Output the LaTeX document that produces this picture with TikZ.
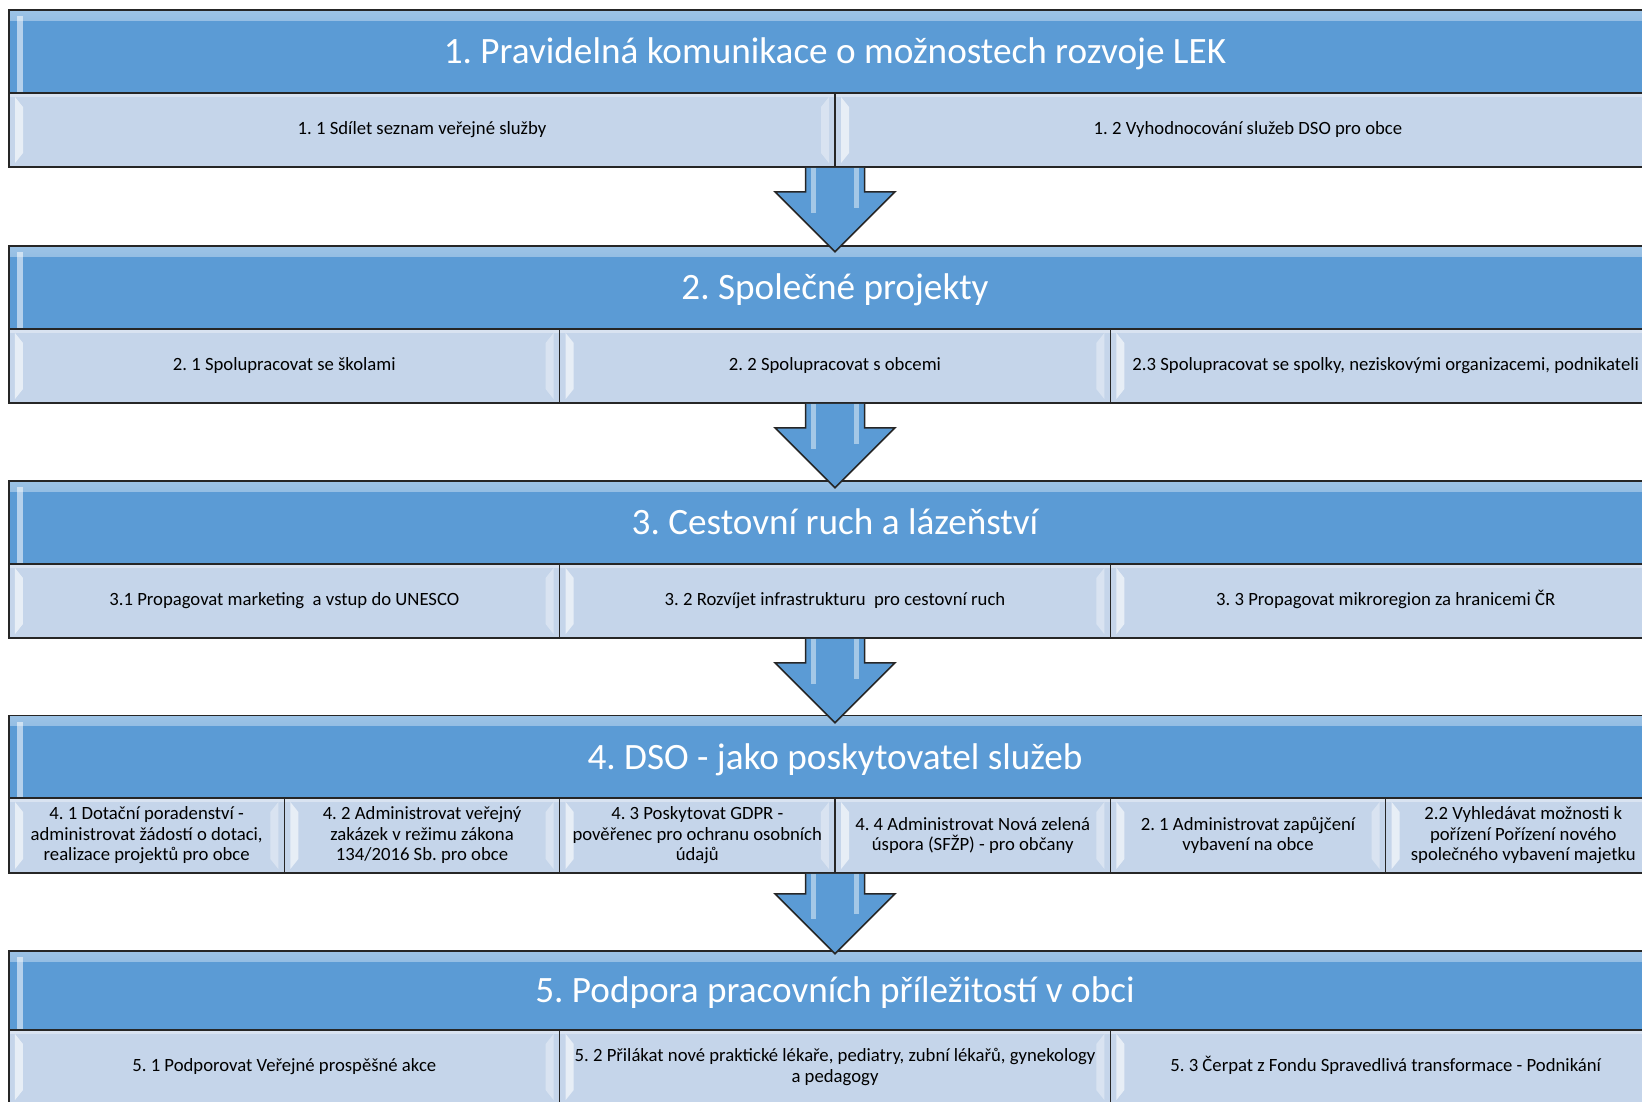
\documentclass[tikz,border=0pt]{standalone}
\usepackage{fontspec}
\setmainfont{Carlito}
\frenchspacing
\usetikzlibrary{calc}
\definecolor{hdrblue}{HTML}{5B9BD5}
\definecolor{subblue}{HTML}{C5D5EA}

\tikzset{
  hdr/.style={draw=black!85, line width=1.5pt, fill=hdrblue, minimum width=1652pt,
    minimum height=83pt, inner sep=0pt, text=white, font=\fontsize{37.2}{40}\selectfont,
    text height=30pt, text depth=5.5pt,
    path picture={
      \fill[top color=white!40!hdrblue, bottom color=hdrblue] (path picture bounding box.north west)
        rectangle ([yshift=-10pt]path picture bounding box.north east);
      \fill[white, opacity=0.55] ([shift={(8pt,-6pt)}]path picture bounding box.north west)
        rectangle ([xshift=14pt]path picture bounding box.south west);
    }},
  cell/.style={draw=black!85, line width=1.5pt, fill=subblue, minimum width=#1,
    minimum height=74pt, inner sep=0pt, align=center, font=\fontsize{18.7}{20.5}\selectfont,
    path picture={
      \fill[white, opacity=0.35] (path picture bounding box.north west)
        rectangle ([yshift=-4pt]path picture bounding box.north east);
      \fill[white, opacity=0.6] ([shift={(6pt,-4pt)}]path picture bounding box.north west)
        -- ([shift={(14pt,-14pt)}]path picture bounding box.north west)
        -- ([shift={(14pt,14pt)}]path picture bounding box.south west)
        -- ([shift={(6pt,4pt)}]path picture bounding box.south west) -- cycle;
      \fill[white, opacity=0.35] ([shift={(-6pt,-4pt)}]path picture bounding box.north east)
        -- ([shift={(-14pt,-14pt)}]path picture bounding box.north east)
        -- ([shift={(-14pt,14pt)}]path picture bounding box.south east)
        -- ([shift={(-6pt,4pt)}]path picture bounding box.south east) -- cycle;
    }},
  bigarrow/.style={draw=black!85, line width=1.5pt, fill=hdrblue, line join=miter,
    path picture={
      \fill[white, opacity=0.45] ([shift={(36pt,0pt)}]path picture bounding box.north west)
        rectangle ([shift={(41pt,-45pt)}]path picture bounding box.north west);
      \fill[white, opacity=0.45] ([shift={(79pt,0pt)}]path picture bounding box.north west)
        rectangle ([shift={(84pt,-40pt)}]path picture bounding box.north west);
    }}
}

\begin{document}
\begin{tikzpicture}[x=1pt, y=-1pt]
    \useasboundingbox (0,0) rectangle (1642,1101);

    \node[hdr] (hdr1) at (835,51.5) {1. Pravidelná komunikace o možnostech rozvoje LEK};
    \node[cell=826pt] (s11) at (422,130) {1. 1 Sdílet seznam veřejné služby};
    \node[cell=826pt] (s12) at (1248,130) {1. 2 Vyhodnocování služeb DSO pro obce};

    \node[hdr] (hdr2) at (835,287.5) {2. Společné projekty};
    \node[cell=550.67pt] (s21) at (284.3,366) {2. 1 Spolupracovat se školami};
    \node[cell=550.67pt] (s22) at (835,366) {2. 2 Spolupracovat s obcemi};
    \node[cell=550.67pt] (s23) at (1385.7,366) {2.3 Spolupracovat se spolky, neziskovými organizacemi, podnikateli};

    \node[hdr] (hdr3) at (835,522.5) {3. Cestovní ruch a lázeňství};
    \node[cell=550.67pt] (s31) at (284.3,601) {3.1 Propagovat marketing\ \ a vstup do UNESCO};
    \node[cell=550.67pt] (s32) at (835,601) {3. 2 Rozvíjet infrastrukturu\ \ pro cestovní ruch};
    \node[cell=550.67pt] (s33) at (1385.7,601) {3. 3 Propagovat mikroregion za hranicemi \smash{Č}R};

    \node[hdr] (hdr4) at (835,757) {4. DSO - jako poskytovatel služeb};
    \node[cell=275.33pt, minimum height=75pt] (s41) at (146.7,835.5) {4. 1 Dotační poradenství -\\administrovat žádostí o dotaci,\\realizace projektů pro obce};
    \node[cell=275.33pt, minimum height=75pt] (s42) at (422,835.5) {4. 2 Administrovat veřejný\\zakázek v režimu zákona\\134/2016 Sb. pro obce};
    \node[cell=275.33pt, minimum height=75pt] (s43) at (697.3,835.5) {4. 3 Poskytovat GDPR -\\pověřenec pro ochranu osobních\\údajů};
    \node[cell=275.33pt, minimum height=75pt] (s44) at (972.7,835.5) {4. 4 Administrovat Nová zelená\\úspora (SFŽP) - pro občany};
    \node[cell=275.33pt, minimum height=75pt] (s45) at (1248,835.5) {2. 1 Administrovat zapůjčení\\vybavení na obce};
    \node[cell=275.33pt, minimum height=75pt] (s46) at (1523.3,835.5) {2.2 Vyhledávat možnosti k\\pořízení Pořízení nového\\společného vybavení majetku};

    \node[hdr, minimum height=79pt] (hdr5) at (835,990.5) {5. Podpora pracovních příležitostí v obci};
    \node[cell=550.67pt] (s51) at (284.3,1067) {5. 1 Podporovat Veřejné prospěšné akce};
    \node[cell=550.67pt] (s52) at (835,1067) {5. 2 Přilákat nové praktické lékaře, pediatry, zubní lékařů, gynekology\\a pedagogy};
    \node[cell=550.67pt] (s53) at (1385.7,1067) {5. 3 \smash{Č}erpat z Fondu Spravedlivá transformace - Podnikání};

    \draw[bigarrow] (hdr1.center |- s11.south) ++(-29.5,0) -- ++(0,24) -- ++(-30.5,0) -- ++(60,60) -- ++(60,-60) -- ++(-30.5,0) -- ++(0,-24);
    \draw[bigarrow] (hdr2.center |- s21.south) ++(-29.5,0) -- ++(0,24) -- ++(-30.5,0) -- ++(60,60) -- ++(60,-60) -- ++(-30.5,0) -- ++(0,-24);
    \draw[bigarrow] (hdr3.center |- s31.south) ++(-29.5,0) -- ++(0,24) -- ++(-30.5,0) -- ++(60,60) -- ++(60,-60) -- ++(-30.5,0) -- ++(0,-24);
    \draw[bigarrow] (hdr4.center |- s41.south) ++(-29.5,0) -- ++(0,20) -- ++(-30.5,0) -- ++(60,60) -- ++(60,-60) -- ++(-30.5,0) -- ++(0,-20);
\end{tikzpicture}
\end{document}
